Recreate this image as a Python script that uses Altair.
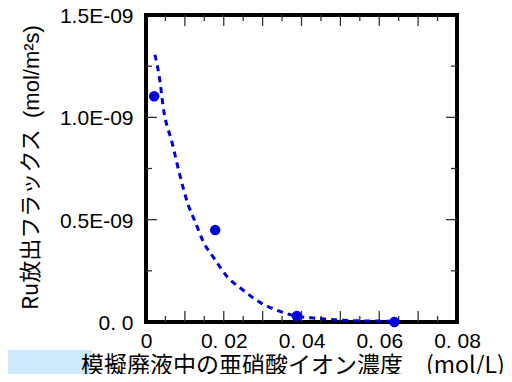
import altair as alt
import pandas as pd

# ---- data (flux in units of 1E-09 mol/m2s) ----
pt_x = [0.0021, 0.0178, 0.0388, 0.0639]
pt_y = [1.103, 0.449, 0.029, 0.0]

curve_x = [0.0023, 0.0036, 0.0044, 0.0067, 0.0088, 0.0108, 0.0126, 0.0147,
           0.0177, 0.0208, 0.0247, 0.0293, 0.0345, 0.0388, 0.0440, 0.0507,
           0.0576, 0.0640]
curve_y = [1.306, 1.175, 1.053, 0.877, 0.711, 0.575, 0.492, 0.394,
           0.306, 0.223, 0.160, 0.096, 0.052, 0.028, 0.018, 0.008,
           0.005, 0.003]

x_label_vals = [0.0, 0.02, 0.04, 0.06, 0.08]
x_labels = ["0", "0. 02", "0. 04", "0. 06", "0. 08"]
y_label_vals = [0.0, 0.5, 1.0, 1.5]
y_labels = ["0. 0", "0.5E-09", "1.0E-09", "1.5E-09"]

x_major_ticks = [0.01, 0.02, 0.03, 0.04, 0.05, 0.06, 0.07]
x_minor_ticks = [0.005, 0.015, 0.025, 0.035, 0.045, 0.055, 0.065, 0.075]
y_major_ticks = [0.5, 1.0]
y_minor_ticks = [0.25, 0.75, 1.25]

x_title = "模擬廃液中の亜硝酸イオン濃度\u3000(mol/L)"
y_title_jp = "Ru放出フラックス"
y_title_unit = "(mol/m²s)"

W, H = 311, 307
BLUE = "#0000d8"
TICK = "#333333"
LONG, SHORT = 11, 6

xs = alt.Scale(domain=[0, 0.08], nice=False, zero=False)
ys = alt.Scale(domain=[0, 1.5], nice=False, zero=False)


def lbl_expr(labels, step):
    arr = "[" + ",".join("'" + s + "'" for s in labels) + "]"
    return f"{arr}[round(datum.value/{step})]"


x_axis = alt.Axis(values=x_label_vals, labelExpr=lbl_expr(x_labels, 0.02),
                  domain=False, ticks=False, grid=False, title=None,
                  labelFont="Liberation Sans Narrow, Liberation Sans", labelFontSize=21,
                  labelColor="black", labelPadding=8, labelFlush=False)
y_axis = alt.Axis(values=y_label_vals, labelExpr=lbl_expr(y_labels, 0.5),
                  domain=False, ticks=False, grid=False, title=None,
                  labelFont="Liberation Sans", labelFontSize=21,
                  labelColor="black", labelPadding=13, labelFlush=False,
                  labelOffset=1.5)

pts = pd.DataFrame({"x": pt_x, "y": pt_y})
crv = pd.DataFrame({"x": curve_x, "y": curve_y})

bg = alt.Chart(pd.DataFrame({"a": [0]})).mark_rect(color="#cde9fb").encode(
    x=alt.value(-140), x2=alt.value(-54), y=alt.value(335), y2=alt.value(380))

curve = alt.Chart(crv).mark_line(color=BLUE, strokeWidth=3, strokeDash=[6, 5],
                                 interpolate="monotone").encode(
    x=alt.X("x:Q", scale=xs, axis=x_axis),
    y=alt.Y("y:Q", scale=ys, axis=y_axis))

points = alt.Chart(pts).mark_circle(color=BLUE, size=110, opacity=1).encode(
    x=alt.X("x:Q", scale=xs), y=alt.Y("y:Q", scale=ys))


def xticks(vals, length):
    d = pd.DataFrame({"x": vals})
    out = []
    for ypos in (H - length / 2, length / 2):
        out.append(alt.Chart(d).mark_tick(color=TICK, thickness=1.3, orient="vertical",
                                          opacity=1).encode(
            x=alt.X("x:Q", scale=xs), y=alt.value(ypos), size=alt.value(length)))
    return out


def yticks(vals, length):
    d = pd.DataFrame({"y": vals})
    out = []
    for xpos in (length / 2, W - length / 2):
        out.append(alt.Chart(d).mark_tick(color=TICK, thickness=1.3, orient="horizontal",
                                          opacity=1).encode(
            y=alt.Y("y:Q", scale=ys), x=alt.value(xpos), size=alt.value(length)))
    return out


tick_layers = (xticks(x_major_ticks, LONG) + xticks(x_minor_ticks, SHORT)
               + yticks(y_major_ticks, LONG) + yticks(y_minor_ticks, SHORT))

xt = alt.Chart(pd.DataFrame({"t": [x_title]})).mark_text(
    align="left", baseline="alphabetic", font="Noto Sans CJK JP", fontSize=23,
    color="black").encode(x=alt.value(-65), y=alt.value(358), text="t:N")

yt1 = alt.Chart(pd.DataFrame({"t": [y_title_jp]})).mark_text(
    align="left", baseline="middle", angle=270, font="Noto Sans CJK JP", fontSize=22,
    color="black").encode(x=alt.value(-115), y=alt.value(295), text="t:N")

yt2 = alt.Chart(pd.DataFrame({"t": [y_title_unit]})).mark_text(
    align="left", baseline="middle", angle=270, font="Liberation Sans", fontSize=22,
    color="black").encode(x=alt.value(-114), y=alt.value(103), text="t:N")

chart = alt.layer(bg, *tick_layers, curve, points, xt, yt1, yt2).properties(
    width=W, height=H,
    autosize=alt.AutoSizeParams(type="none"),
    padding={"left": 138, "top": 7, "right": 47, "bottom": 52},
).configure_view(stroke="black", strokeWidth=4)

chart.save("out.html", embed_options={"renderer": "svg", "actions": False})
